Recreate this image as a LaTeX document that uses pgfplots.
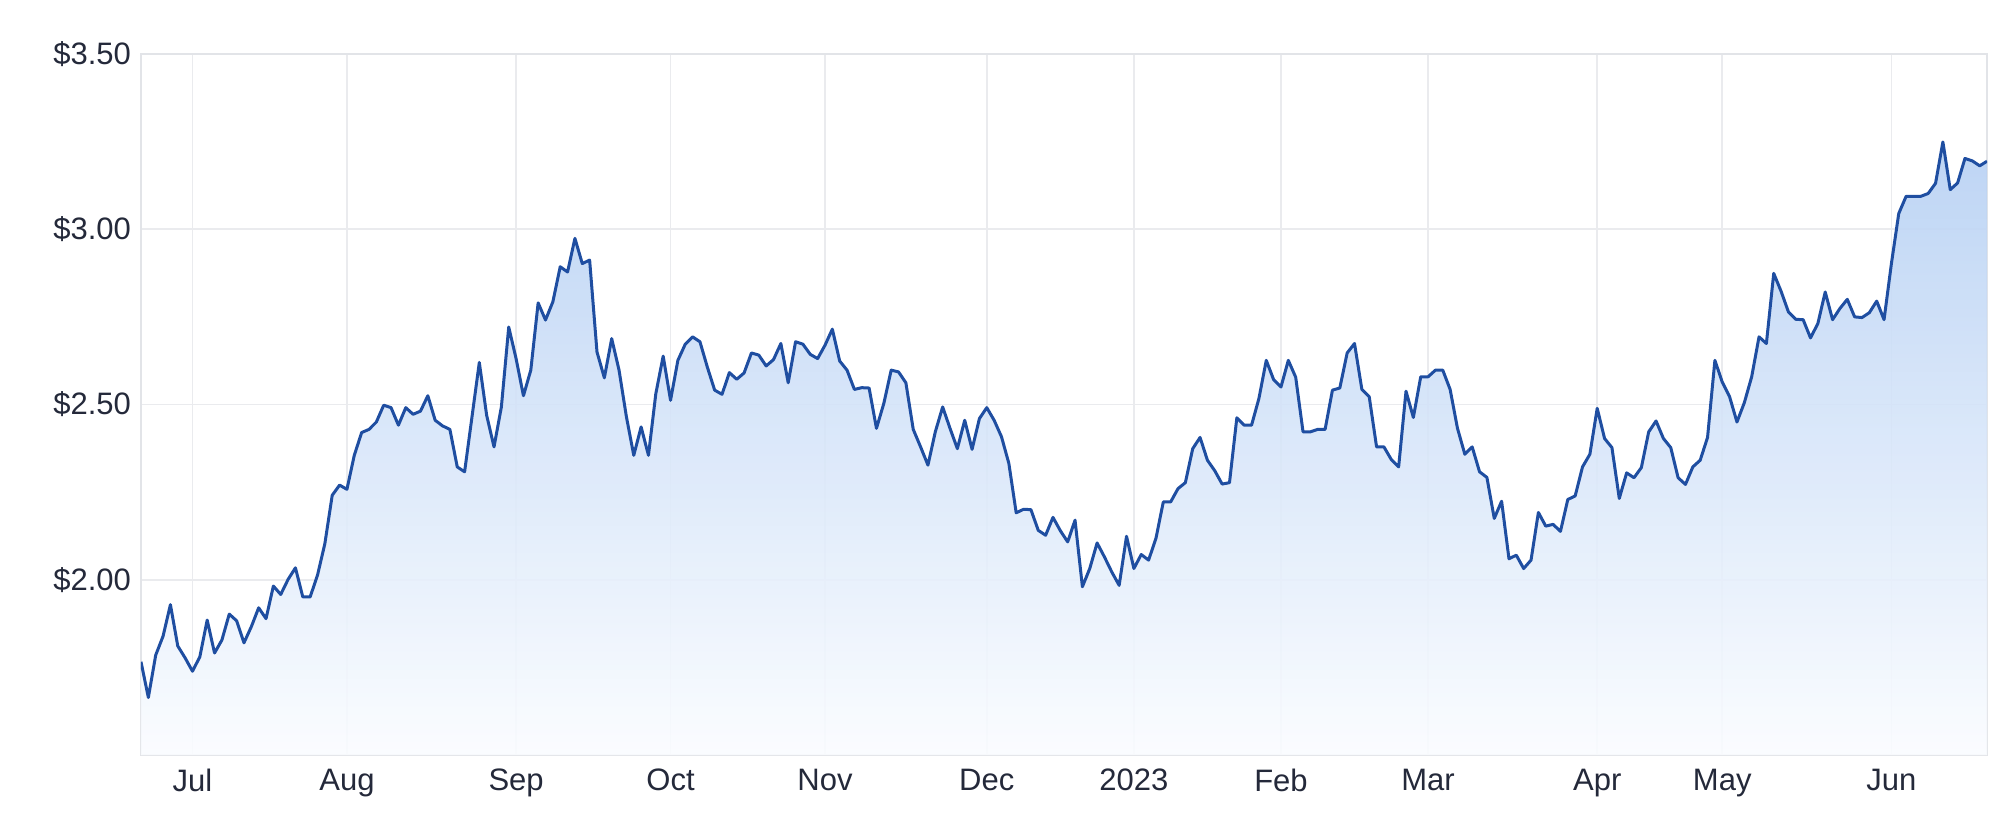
\documentclass[border=0pt]{standalone}
\usepackage{fontspec}
\setmainfont{Liberation Sans}
\usepackage{pgfplots}
\pgfplotsset{compat=1.18}
\usepackage{pgfplotstable}
\definecolor{linec}{RGB}{31,78,161}
\definecolor{gridc}{RGB}{234,235,238}
\definecolor{axisc}{RGB}{226,228,232}
\definecolor{textc}{RGB}{36,41,58}
\definecolor{filltop}{RGB}{182,208,243}
\definecolor{fillbot}{RGB}{250,252,255}
\pgfplotstableread{
i v
-7 1.766
-6 1.664
-5 1.785
-4 1.839
-3 1.929
-2 1.811
-1 1.777
0 1.739
1 1.780
2 1.885
3 1.791
4 1.828
5 1.902
6 1.883
7 1.820
8 1.866
9 1.920
10 1.889
11 1.982
12 1.958
13 2.001
14 2.034
15 1.951
16 1.951
17 2.013
18 2.103
19 2.241
20 2.270
21 2.258
22 2.355
23 2.420
24 2.429
25 2.450
26 2.498
27 2.491
28 2.441
29 2.491
30 2.472
31 2.481
32 2.525
33 2.455
34 2.439
35 2.429
36 2.322
37 2.308
39 2.620
40 2.469
41 2.379
42 2.493
43 2.721
44 2.631
45 2.525
46 2.598
47 2.790
48 2.741
49 2.793
50 2.893
51 2.878
52 2.974
53 2.902
54 2.912
55 2.650
56 2.576
57 2.688
58 2.598
59 2.465
60 2.355
61 2.436
62 2.355
63 2.531
64 2.638
65 2.512
66 2.626
67 2.672
68 2.693
69 2.679
70 2.607
71 2.541
72 2.529
73 2.591
74 2.572
75 2.590
76 2.647
77 2.641
78 2.610
79 2.628
80 2.674
81 2.562
82 2.679
83 2.672
84 2.643
85 2.631
86 2.669
87 2.715
88 2.624
89 2.598
90 2.543
91 2.548
92 2.547
93 2.432
94 2.503
95 2.598
96 2.593
97 2.562
98 2.429
99 2.379
100 2.327
101 2.422
102 2.493
103 2.432
104 2.374
105 2.455
106 2.372
107 2.460
108 2.491
109 2.455
110 2.408
111 2.332
112 2.191
113 2.201
114 2.200
115 2.141
116 2.127
117 2.178
118 2.140
119 2.108
120 2.170
121 1.980
122 2.032
123 2.105
124 2.065
125 2.022
126 1.984
127 2.124
128 2.032
129 2.072
130 2.056
131 2.118
132 2.222
133 2.222
134 2.260
135 2.277
136 2.374
137 2.406
138 2.341
139 2.311
140 2.273
141 2.277
142 2.462
143 2.441
144 2.441
145 2.517
146 2.626
147 2.571
148 2.550
149 2.626
150 2.578
151 2.422
152 2.422
153 2.429
154 2.429
155 2.541
156 2.547
157 2.647
158 2.674
159 2.543
160 2.522
161 2.379
162 2.379
163 2.343
164 2.322
165 2.538
166 2.463
167 2.579
168 2.579
169 2.598
170 2.598
171 2.543
172 2.432
173 2.358
174 2.379
175 2.308
176 2.292
177 2.175
178 2.224
179 2.060
180 2.070
181 2.032
182 2.056
183 2.192
184 2.153
185 2.158
186 2.138
187 2.229
188 2.239
189 2.322
190 2.358
191 2.489
192 2.403
193 2.377
194 2.232
195 2.305
196 2.291
197 2.320
198 2.422
199 2.453
200 2.403
201 2.377
202 2.291
203 2.272
204 2.322
205 2.341
206 2.406
207 2.626
208 2.564
209 2.522
210 2.450
211 2.505
212 2.579
213 2.693
214 2.674
215 2.874
216 2.823
217 2.764
218 2.743
219 2.742
220 2.690
221 2.731
222 2.821
223 2.742
224 2.774
225 2.800
226 2.750
227 2.748
228 2.762
229 2.795
230 2.742
231 2.902
232 3.045
233 3.094
234 3.094
235 3.094
236 3.102
237 3.131
238 3.249
239 3.113
240 3.132
241 3.202
242 3.195
243 3.181
244 3.194
}\price

\begin{document}
\begin{tikzpicture}
\begin{axis}[
  scale only axis, width=923pt, height=350.5pt,
  xmin=-7, xmax=244, ymin=1.5, ymax=3.5,
  axis line style={draw=axisc, line width=0.9pt},
  xtick={0,21,44,65,86,108,128,148,168,191,208,231},
  xticklabels={Jul,Aug,Sep,Oct,Nov,Dec,2023,Feb,Mar,Apr,May,Jun},
  ytick={2,2.5,3,3.5},
  yticklabels={\$2.00,\$2.50,\$3.00,\$3.50},
  grid=major, major grid style={draw=gridc, line width=0.8pt},
  tick style={draw=none},
  ticklabel style={font=\fontsize{15.5}{18}\selectfont, text=textc},
  xticklabel style={yshift=-3.5pt},
  yticklabel style={xshift=-1.5pt},
]
\addplot[draw=none, top color=filltop, bottom color=fillbot, fill opacity=0.9] table[x=i,y=v]{\price} -- (axis cs:244,1.5) -- (axis cs:-7,1.5) -- cycle;
\addplot[linec, line width=1.5pt, line join=round, mark=none] table[x=i,y=v]{\price};
\end{axis}
\path ([xshift=-70.5pt,yshift=-37.5pt]current axis.south west) rectangle ([xshift=9.5pt,yshift=27pt]current axis.north east);
\end{tikzpicture}
\end{document}
